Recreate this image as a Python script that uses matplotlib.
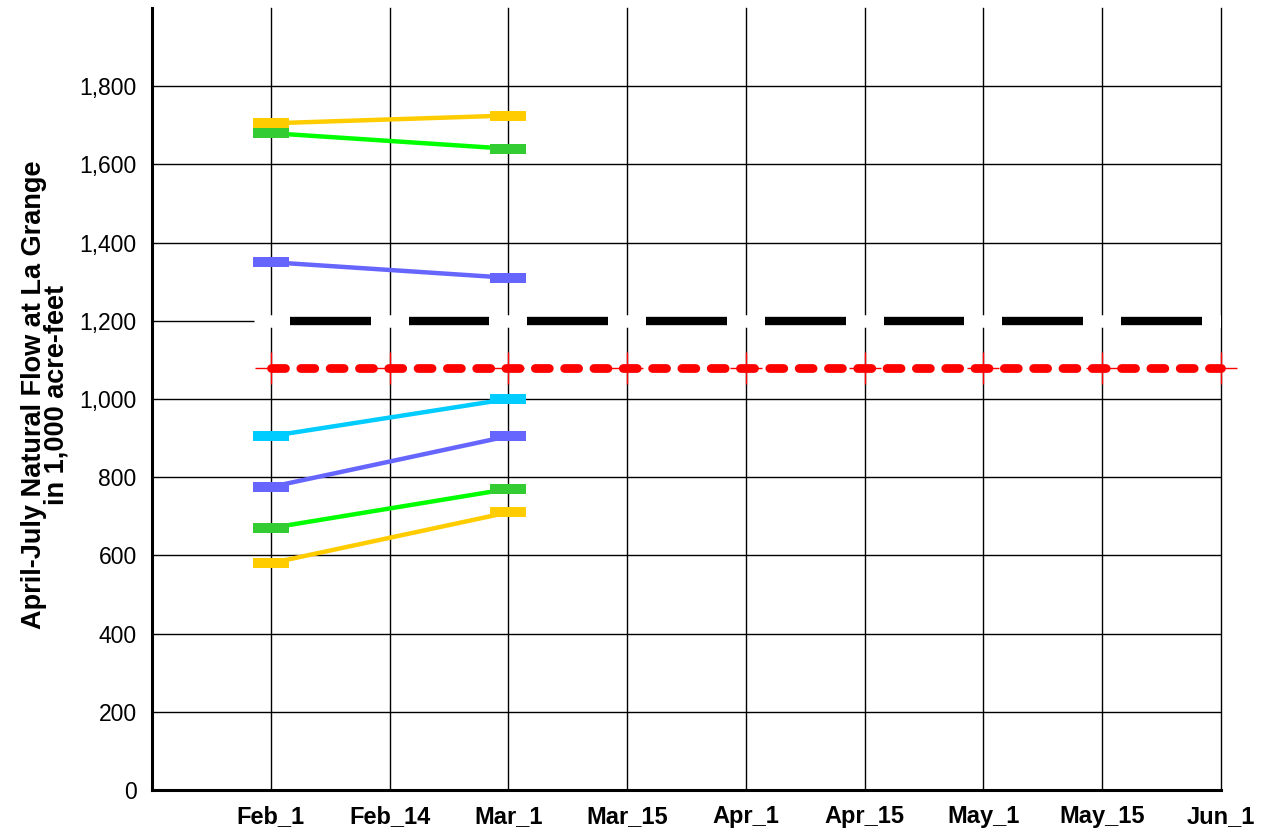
import matplotlib
matplotlib.use("Agg")
import matplotlib.pyplot as plt
from matplotlib.path import Path

plt.rcParams['font.family'] = ['Liberation Sans', 'DejaVu Sans']

# ---- data ----
categories = ["Feb_1", "Feb_14", "Mar_1", "Mar_15", "Apr_1", "Apr_15", "May_1", "May_15", "Jun_1"]
obs_dates = ["Feb_1", "Mar_1"]
yellow_hi = [1705, 1725]
green_hi = [1680, 1640]
blue_hi = [1350, 1310]
cyan_mid = [905, 1000]
blue_lo = [775, 905]
green_lo = [670, 770]
yellow_lo = [580, 710]
average_value = 1080
target_value = 1200
yticks = [0, 200, 400, 600, 800, 1000, 1200, 1400, 1600, 1800]

series = [
    (yellow_hi, "#FFCC00", "#FFCC00"),
    (green_hi, "#00FF00", "#33CC33"),
    (blue_hi, "#6666FF", "#6666FF"),
    (cyan_mid, "#00CCFF", "#00CCFF"),
    (blue_lo, "#6666FF", "#6666FF"),
    (green_lo, "#00FF00", "#33CC33"),
    (yellow_lo, "#FFCC00", "#FFCC00"),
]

W, H = 1265, 833
fig = plt.figure(figsize=(W / 100, H / 100), dpi=100)
ax = fig.add_axes([152 / W, 1 - 790 / H, (1221 - 152) / W, (790 - 8) / H])

xpos = {c: i + 1 for i, c in enumerate(categories)}
ax.set_xlim(0, len(categories))
ax.set_ylim(0, 2000)

# grid
ax.set_xticks([xpos[c] for c in categories])
ax.set_xticklabels(categories, fontweight='bold', fontsize=17)
ax.set_yticks(yticks)
ax.set_yticklabels([f"{v:,}" for v in yticks], fontsize=16.5)
ax.tick_params(axis='both', length=0)
ax.tick_params(axis='x', pad=10.5)
ax.tick_params(axis='y', pad=11)
ax.grid(True, color='black', linewidth=1.0, zorder=0)
ax.set_axisbelow(True)
for gl in ax.get_xgridlines():
    gl.set_clip_on(False)
for s in ['top', 'right']:
    ax.spines[s].set_visible(False)
ax.spines['left'].set_linewidth(2.2)
ax.spines['bottom'].set_linewidth(2.2)

# target line (white underlay + black dashes between categories)
x0 = xpos[categories[0]]
x_end = xpos[categories[-1]]
ax.plot([x0 - 0.145, x_end], [target_value, target_value], color='white',
        linewidth=9, solid_capstyle='butt', zorder=2)
starts = [xpos[c] + 0.16 for c in categories[:-1]]
ends = [xpos[c] + 0.84 for c in categories[:-1]]
ax.hlines([target_value] * len(starts), starts, ends, colors='black',
          linewidth=6, zorder=3, capstyle='butt')

# average line (red dashed with + markers)
ax.plot([xpos[c] for c in categories], [average_value] * len(categories),
        color='red', linewidth=6.3, linestyle=(0, (1.6, 1.75)),
        dash_capstyle='round', zorder=4, clip_on=False)
ax.plot([xpos[c] for c in categories], [average_value] * len(categories),
        linestyle='none', marker='+', markersize=23, markeredgewidth=1.0,
        color='red', zorder=4, clip_on=False)

# forecast series
rect = Path([(-0.5, -0.135), (0.5, -0.135), (0.5, 0.135), (-0.5, 0.135), (-0.5, -0.135)],
            [Path.MOVETO, Path.LINETO, Path.LINETO, Path.LINETO, Path.CLOSEPOLY])
xs = [xpos[d] for d in obs_dates]
for vals, lc, mc in series:
    ax.plot(xs, vals, color=lc, linewidth=3.2, zorder=5)
    ax.plot(xs, vals, linestyle='none', marker=rect, markersize=26.5,
            markerfacecolor=mc, markeredgecolor=mc, markeredgewidth=0, zorder=6)

ax.set_ylabel("April-July Natural Flow at La Grange\nin 1,000 acre-feet",
              fontweight='bold', fontsize=19.5, linespacing=0.85,
              va='center', ha='center')
ax.yaxis.set_label_coords(-0.1, 0.505)

fig.savefig("out.png", dpi=100)
